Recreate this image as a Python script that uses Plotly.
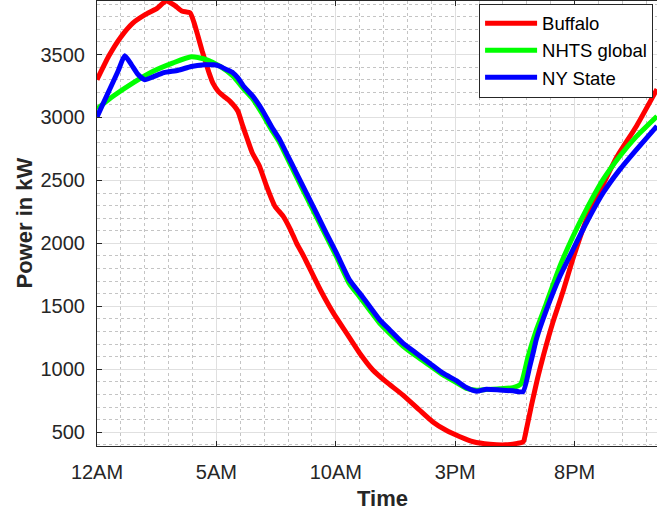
import plotly.graph_objects as go

# ---- data (hours since midnight, power in kW) ----
buffalo_t = [0, 0.5, 1.0, 1.5, 2.0, 2.5, 2.9, 3.25, 3.55, 3.9, 4.06, 4.23, 4.4, 4.55, 4.7,
             4.86, 5.07, 5.3, 5.56, 5.9, 6.1, 6.3, 6.5, 6.8, 7.1, 7.45, 7.8, 8.1, 8.35, 8.65,
             9.35, 9.9, 10.45, 11.0, 11.55, 12.1, 12.8, 13.5, 14.05, 14.6, 15.2, 15.75, 16.45,
             17.1, 17.6, 17.85, 18.0, 18.2, 18.45, 18.7, 19.1, 19.5, 19.95, 20.5, 21.2, 21.75,
             22.6, 23.45]
buffalo_v = [3300, 3490, 3640, 3750, 3815, 3865, 3925, 3890, 3845, 3830, 3755, 3645, 3530, 3440, 3350,
             3270, 3210, 3170, 3130, 3050, 2935, 2825, 2720, 2615, 2455, 2295, 2215, 2110, 2005, 1900,
             1632, 1446, 1287, 1128, 995, 902, 797, 677, 584, 518, 465, 425, 405,
             400, 412, 425, 540, 720, 930, 1115, 1380, 1610, 1890, 2190, 2470, 2680,
             2935, 3225]

nhts_t = [0, 0.67, 1.51, 2.35, 3.19, 3.95, 4.58, 5.14, 5.7, 6.13, 6.53, 6.9, 7.3, 7.65, 8.0,
          8.35, 8.77, 9.19, 9.6, 10.03, 10.57, 11.0, 11.42, 11.84, 12.26, 12.81, 13.37, 13.93,
          14.49, 15.05, 15.47, 15.89, 16.31, 16.86, 17.42, 17.75, 18.05, 18.4, 18.82, 19.38,
          19.93, 20.49, 21.19, 21.89, 22.59, 23.45]
nhts_v = [3068, 3168, 3275, 3367, 3434, 3482, 3460, 3407, 3328, 3230, 3145, 3035, 2905, 2800, 2665,
          2530, 2370, 2210, 2055, 1895, 1680, 1575, 1470, 1365, 1285, 1185, 1105, 1030,
          955, 895, 848, 834, 840, 845, 855, 885, 1100, 1313, 1526, 1817,
          2055, 2268, 2506, 2692, 2850, 3010]

ny_t = [0, 0.46, 0.88, 1.16, 1.44, 1.72, 2.0, 2.35, 2.8, 3.4, 3.95, 4.5, 4.9, 5.14, 5.42, 5.7,
        5.9, 6.13, 6.53, 6.9, 7.3, 7.65, 8.0, 8.35, 8.77, 9.19, 9.6, 10.03, 10.57, 11.0, 11.42,
        11.84, 12.26, 12.81, 13.37, 13.93, 14.49, 15.05, 15.47, 15.89, 16.31, 16.86, 17.42,
        17.84, 18.12, 18.26, 18.4, 18.82, 19.38, 19.93, 20.49, 21.19, 21.89, 22.59, 23.45]
ny_v = [3005, 3195, 3367, 3490, 3420, 3341, 3300, 3323, 3356, 3375, 3405, 3418, 3418, 3407, 3381, 3354,
        3315, 3250, 3168, 3065, 2930, 2824, 2691, 2559, 2400, 2241, 2082, 1923, 1711, 1605, 1499,
        1393, 1313, 1208, 1128, 1049, 969, 910, 855, 826, 842, 836, 829,
        823, 1022, 1128, 1240, 1472, 1737, 1950, 2162, 2400, 2586, 2745, 2932]

tick_vals = [0, 5, 10, 15, 20]
tick_text = ["12AM", "5AM", "10AM", "3PM", "8PM"]

FONT = "Liberation Sans, Arial, Helvetica, sans-serif"
DARK = "#262626"

fig = go.Figure()
for t, v, name, col in [(buffalo_t, buffalo_v, "Buffalo", "#ff0000"),
                        (nhts_t, nhts_v, "NHTS global", "#00ff00"),
                        (ny_t, ny_v, "NY State", "#0000ff")]:
    fig.add_trace(go.Scatter(x=t, y=v, mode="lines", name=name,
                             line=dict(color=col, width=5, shape="spline", smoothing=0.5)))

fig.update_layout(
    width=657, height=512,
    margin=dict(l=97, r=0, t=1, b=66),
    paper_bgcolor="white", plot_bgcolor="white",
    font=dict(family=FONT, color=DARK),
    showlegend=True,
    legend=dict(x=0.993, xanchor="right", y=0.994, yanchor="top",
                bgcolor="white", bordercolor=DARK, borderwidth=1,
                font=dict(size=18.5, color="#000000"), itemwidth=52,
                tracegroupgap=0),
    xaxis=dict(range=[0, 23.45], tickmode="array", tickvals=tick_vals, ticktext=tick_text,
               ticks="inside", ticklen=5, tickcolor=DARK, tickfont=dict(size=20, color=DARK),
               showline=True, linecolor=DARK, linewidth=1, mirror="ticks",
               showgrid=True, gridcolor="#e0e0e0", gridwidth=1, zeroline=False,
               ticklabelstandoff=8,
               minor=dict(tickmode="linear", tick0=0, dtick=1, showgrid=True,
                          gridcolor="#c4c4c4", griddash="dot", gridwidth=1)),
    yaxis=dict(range=[391, 3925], tick0=0, dtick=500,
               ticks="inside", ticklen=5, tickcolor=DARK, tickfont=dict(size=20, color=DARK),
               showline=True, linecolor=DARK, linewidth=1, mirror=False,
               showgrid=True, gridcolor="#e0e0e0", gridwidth=1, zeroline=False,
               ticklabelstandoff=7,
               minor=dict(tick0=0, dtick=100, showgrid=True,
                          gridcolor="#c4c4c4", griddash="dot", gridwidth=1)),
    annotations=[
        dict(text="<b>Time</b>", xref="paper", yref="paper", x=(382 - 97) / 560, y=-(498 - 446) / 445,
             xanchor="center", yanchor="middle", showarrow=False,
             font=dict(size=22, color=DARK, family=FONT)),
        dict(text="<b>Power in kW</b>", xref="paper", yref="paper", x=-(97 - 24) / 560, y=0.5,
             xanchor="center", yanchor="middle", showarrow=False, textangle=-90,
             font=dict(size=22, color=DARK, family=FONT)),
    ],
)

fig.write_html("out.html")
